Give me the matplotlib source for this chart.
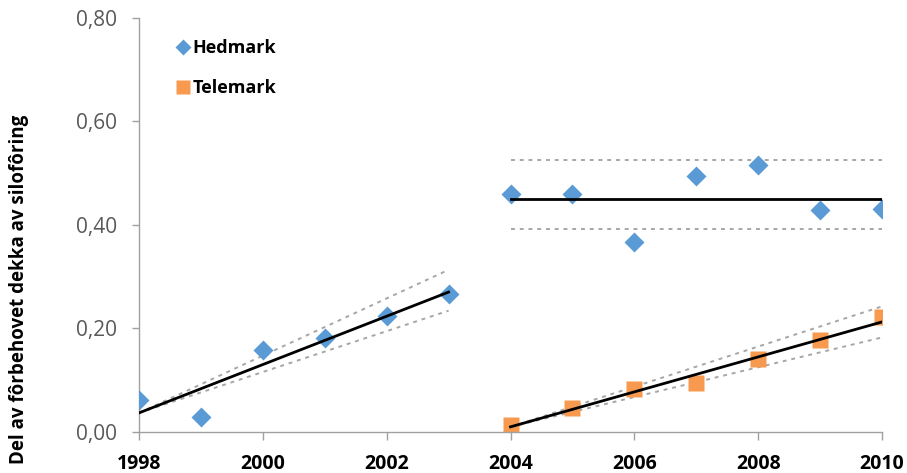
import matplotlib.pyplot as plt
import numpy as np

plt.rcParams['font.family'] = ['Open Sans', 'DejaVu Sans']

years_a = [1998, 1999, 2000, 2001, 2002, 2003]
hedmark_a = [0.062, 0.029, 0.158, 0.182, 0.224, 0.267]

years_b = [2004, 2005, 2006, 2007, 2008, 2009, 2010]
hedmark_b = [0.460, 0.460, 0.367, 0.495, 0.516, 0.429, 0.431]
telemark_b = [0.014, 0.046, 0.083, 0.095, 0.141, 0.178, 0.222]

# dotted band offsets (above, below) at the end of each trend
band_hed_a = (0.043, 0.036)
band_hed_b = (0.074, 0.059)
band_tel_b = (0.030, 0.030)

yticks = [0.0, 0.2, 0.4, 0.6, 0.8]
xticks = [1998, 2000, 2002, 2004, 2006, 2008, 2010]

blue = '#5b9bd5'
orange = '#f79a4f'
band_col = '#a6a6a6'
axis_col = '#a0a0a0'


def trend(ax, x, y, band, flat=False):
    x = np.array(x, dtype=float)
    if flat:
        fit = np.full_like(x, np.mean(y))
        grow = np.ones_like(x)
    else:
        k, m = np.polyfit(x, y, 1)
        fit = k * x + m
        grow = (x - x[0]) / (x[-1] - x[0])
    up, lo = fit + band[0] * grow, fit - band[1] * grow
    ax.plot(x, up, ls=(0, (2, 2.5)), color=band_col, lw=1.4, zorder=1)
    ax.plot(x, lo, ls=(0, (2, 2.5)), color=band_col, lw=1.4, zorder=1)
    ax.plot(x, fit, color='black', lw=2, zorder=3)


fig = plt.figure(figsize=(9.07, 4.73), dpi=100)
ax = fig.add_axes([0.1533, 0.0867, 0.8191, 0.8753])

ax.plot(years_a + years_b, hedmark_a + hedmark_b, 'D', color=blue, ms=10,
        mec='none', label='Hedmark', zorder=2)
ax.plot(years_b, telemark_b, 's', color=orange, ms=12, mec='none',
        label='Telemark', zorder=2)

trend(ax, years_a, hedmark_a, band_hed_a)
trend(ax, years_b, hedmark_b, band_hed_b, flat=True)
trend(ax, years_b, telemark_b, band_tel_b)

ax.set_xlim(1998, 2010)
ax.set_ylim(0, 0.8)
ax.set_xticks(xticks)
ax.set_yticks(yticks)
ax.set_yticklabels([f'{v:.2f}'.replace('.', ',') for v in yticks],
                   color='#595959', fontsize=15)
ax.set_xticklabels([str(v) for v in xticks], fontweight='bold', fontsize=14)
ax.tick_params(axis='y', color=axis_col, length=5, width=1, pad=11)
ax.tick_params(axis='x', color=axis_col, direction='out', length=6,
               width=1, pad=10)

for s in ['top', 'right']:
    ax.spines[s].set_visible(False)
for s in ['left', 'bottom']:
    ax.spines[s].set_color(axis_col)
    ax.spines[s].set_linewidth(1)
ax.spines['left'].set_zorder(0)

ax.set_ylabel('Del av fôrbehovet dekka av silofôring', fontweight='bold',
              fontsize=13.5)
ax.yaxis.set_label_coords(-0.148, 0.345)

leg = ax.legend(loc='upper left', bbox_to_anchor=(0.025, 0.988), frameon=False,
                prop={'weight': 'bold', 'size': 13}, handletextpad=0.05,
                labelspacing=1.23, handlelength=1.0)
leg.legend_handles[0].set_markersize(8)
leg.legend_handles[1].set_markersize(10)

plt.savefig('out.png', dpi=100)
